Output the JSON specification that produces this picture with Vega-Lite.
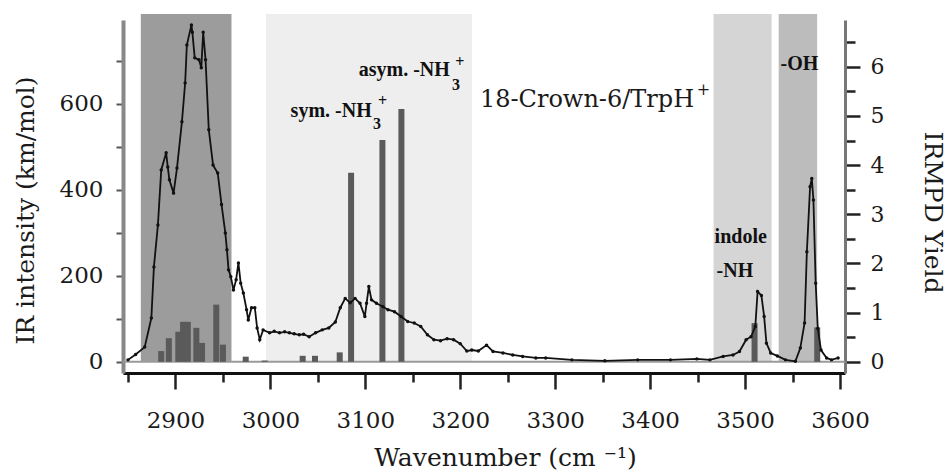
{
  "$schema": "https://vega.github.io/schema/vega-lite/v6.json",
  "width": 722,
  "height": 353,
  "autosize": {"type": "none"},
  "padding": {"left": 123, "top": 20, "right": 101, "bottom": 100},
  "background": "white",
  "config": {"view": {"stroke": null}},
  "datasets": {
    "bands": [
      {"x": 2863.5, "x2": 2959, "region": "CH"},
      {"x": 2995.4, "x2": 3212.4, "region": "NH3"},
      {"x": 3466.8, "x2": 3528, "region": "indole"},
      {"x": 3535.4, "x2": 3575.9, "region": "OH"}
    ],
    "sticks": [
      {"x": 2885, "y": 25}, {"x": 2893, "y": 55}, {"x": 2903, "y": 70},
      {"x": 2908, "y": 93}, {"x": 2913, "y": 93}, {"x": 2922, "y": 79},
      {"x": 2928, "y": 44}, {"x": 2943, "y": 133}, {"x": 2950, "y": 40},
      {"x": 2974, "y": 12}, {"x": 2994, "y": 3}, {"x": 3034, "y": 14},
      {"x": 3047, "y": 14}, {"x": 3073, "y": 22}, {"x": 3085, "y": 440},
      {"x": 3118, "y": 516}, {"x": 3138, "y": 588}, {"x": 3510, "y": 90},
      {"x": 3576, "y": 80}
    ],
    "irmpd": [
      {"x": 2850, "y": 0.04}, {"x": 2858, "y": 0.15}, {"x": 2867.6, "y": 0.3},
      {"x": 2874.6, "y": 0.89}, {"x": 2877.3, "y": 1.93}, {"x": 2881.5, "y": 2.78},
      {"x": 2885, "y": 3.9}, {"x": 2890.2, "y": 4.25}, {"x": 2891.9, "y": 3.96},
      {"x": 2893.6, "y": 3.7}, {"x": 2898, "y": 3.43}, {"x": 2901.6, "y": 3.94},
      {"x": 2906.8, "y": 4.88}, {"x": 2910.2, "y": 5.67}, {"x": 2912, "y": 6.44},
      {"x": 2916.8, "y": 6.85}, {"x": 2917.8, "y": 6.7}, {"x": 2920.3, "y": 6.18},
      {"x": 2924.8, "y": 6.14}, {"x": 2927.2, "y": 5.98}, {"x": 2929.2, "y": 6.7},
      {"x": 2931.7, "y": 6.14}, {"x": 2935.1, "y": 4.72}, {"x": 2939.6, "y": 4.0},
      {"x": 2944.5, "y": 3.84}, {"x": 2948.5, "y": 3.2}, {"x": 2952.5, "y": 2.62},
      {"x": 2954.2, "y": 2.28}, {"x": 2955.9, "y": 1.87}, {"x": 2958.3, "y": 1.73},
      {"x": 2961.1, "y": 1.46}, {"x": 2963.9, "y": 1.67}, {"x": 2966.3, "y": 2.01},
      {"x": 2968.7, "y": 1.6}, {"x": 2971.5, "y": 1.4}, {"x": 2974.9, "y": 1.06},
      {"x": 2976.7, "y": 0.85}, {"x": 2980.1, "y": 1.1}, {"x": 2983.6, "y": 1.1},
      {"x": 2986, "y": 0.69}, {"x": 2988.8, "y": 0.45}, {"x": 2992.3, "y": 0.65},
      {"x": 2999.2, "y": 0.59}, {"x": 3004, "y": 0.62}, {"x": 3009.6, "y": 0.59},
      {"x": 3015, "y": 0.61}, {"x": 3020, "y": 0.59}, {"x": 3025, "y": 0.57},
      {"x": 3030.4, "y": 0.55}, {"x": 3035, "y": 0.56}, {"x": 3040.8, "y": 0.51},
      {"x": 3047.6, "y": 0.59}, {"x": 3054.6, "y": 0.65}, {"x": 3061.5, "y": 0.69},
      {"x": 3068.4, "y": 0.81}, {"x": 3073.6, "y": 1.1}, {"x": 3078.8, "y": 1.29},
      {"x": 3084, "y": 1.2}, {"x": 3089.2, "y": 1.29}, {"x": 3094.4, "y": 1.19},
      {"x": 3099.5, "y": 0.92}, {"x": 3101.3, "y": 1.19}, {"x": 3103.7, "y": 1.53},
      {"x": 3106.5, "y": 1.26}, {"x": 3111.7, "y": 1.19}, {"x": 3118.6, "y": 1.12},
      {"x": 3123.8, "y": 1.06}, {"x": 3130.7, "y": 1.02}, {"x": 3137.6, "y": 0.92},
      {"x": 3144.6, "y": 0.82}, {"x": 3151.5, "y": 0.79}, {"x": 3158.4, "y": 0.72},
      {"x": 3165.4, "y": 0.55}, {"x": 3172.2, "y": 0.45}, {"x": 3179.2, "y": 0.43},
      {"x": 3186.1, "y": 0.47}, {"x": 3193, "y": 0.45}, {"x": 3200, "y": 0.37},
      {"x": 3206.9, "y": 0.22}, {"x": 3212.1, "y": 0.24}, {"x": 3219, "y": 0.22},
      {"x": 3227.7, "y": 0.34}, {"x": 3234.5, "y": 0.21}, {"x": 3245, "y": 0.18},
      {"x": 3255.3, "y": 0.14}, {"x": 3265.7, "y": 0.11}, {"x": 3279.6, "y": 0.08},
      {"x": 3290, "y": 0.08}, {"x": 3317.6, "y": 0.04}, {"x": 3352.3, "y": 0.02},
      {"x": 3386.9, "y": 0.04}, {"x": 3421.4, "y": 0.04}, {"x": 3449.2, "y": 0.06},
      {"x": 3463, "y": 0.04}, {"x": 3476.9, "y": 0.11}, {"x": 3487.3, "y": 0.14},
      {"x": 3494.1, "y": 0.21}, {"x": 3501.1, "y": 0.45}, {"x": 3506.3, "y": 0.51},
      {"x": 3510.8, "y": 0.72}, {"x": 3513.2, "y": 1.43}, {"x": 3517.2, "y": 1.35},
      {"x": 3520.1, "y": 0.92}, {"x": 3522.5, "y": 0.38}, {"x": 3527, "y": 0.18},
      {"x": 3534, "y": 0.12}, {"x": 3542.6, "y": 0.04}, {"x": 3553, "y": 0.01},
      {"x": 3558.2, "y": 0.28}, {"x": 3562.7, "y": 0.79}, {"x": 3565.1, "y": 2.24},
      {"x": 3568.5, "y": 3.56}, {"x": 3570.3, "y": 3.73}, {"x": 3572, "y": 3.29},
      {"x": 3574.4, "y": 1.6}, {"x": 3576.6, "y": 0.68}, {"x": 3580, "y": 0.24},
      {"x": 3585.9, "y": 0.08}, {"x": 3591.1, "y": 0.04}, {"x": 3598, "y": 0.08}
    ],
    "labelsBold": [
      {"x": 3021.3, "y": 570, "text": "sym. -NH"},
      {"x": 3093, "y": 665, "text": "asym. -NH"},
      {"x": 3467.9, "y": 277, "text": "indole"},
      {"x": 3470, "y": 198, "text": "-NH"},
      {"x": 3537.4, "y": 679, "text": "-OH"}
    ],
    "labelsScript": [
      {"x": 3108.2, "y": 541, "text": "3"},
      {"x": 3113.4, "y": 595, "text": "+"},
      {"x": 3191.3, "y": 633, "text": "3"},
      {"x": 3194.8, "y": 685, "text": "+"}
    ],
    "labelsPlain": [
      {"x": 3220.7, "y": 593, "text": "18-Crown-6/TrpH"}
    ],
    "labelsPlainSup": [
      {"x": 3449.2, "y": 621, "text": "+"}
    ]
  },
  "layer": [
    {
      "layer": [
        {
          "data": {"name": "bands"},
          "mark": {"type": "rect"},
          "encoding": {
            "x": {"field": "x", "type": "quantitative", "scale": {"domain": [2850, 3600], "nice": false, "zero": false}},
            "x2": {"field": "x2"},
            "y": {"datum": 809, "type": "quantitative", "scale": {"domain": [-26, 795], "nice": false, "zero": false}},
            "y2": {"datum": 0},
            "color": {"field": "region", "type": "nominal", "scale": {"domain": ["CH", "NH3", "indole", "OH"], "range": ["#9c9c9c", "#eeeeee", "#d5d5d5", "#bcbcbc"]}, "legend": null}
          }
        },
        {
          "data": {"values": [{"y": 0}]},
          "mark": {"type": "rule", "color": "#9a9a9a", "strokeWidth": 2},
          "encoding": {
            "y": {"field": "y", "type": "quantitative"}
          }
        },
        {
          "data": {"name": "sticks"},
          "mark": {"type": "bar", "color": "#5a5a5a", "size": 6},
          "encoding": {
            "x": {"field": "x", "type": "quantitative", "axis": {
              "values": [2850, 2900, 2950, 3000, 3050, 3100, 3150, 3200, 3250, 3300, 3350, 3400, 3450, 3500, 3550, 3600],
              "format": "d",
              "labelExpr": "datum.value % 100 === 0 ? datum.label : ''",
              "title": "Wavenumber (cm \u207B\u00B9)",
              "titleFont": "DejaVu Serif", "titleFontSize": 25, "titleFontWeight": "normal", "titleColor": "#1a1a1a",
              "titleX": 382, "titleY": 92, "titleBaseline": "alphabetic", "titleAlign": "center",
              "labelFont": "DejaVu Serif", "labelFontSize": 23, "labelColor": "#1a1a1a",
              "labelPadding": 20, "labelFlush": false, "labelOverlap": false,
              "tickSize": {"condition": {"test": "datum.value % 100 === 0", "value": 16}, "value": 9},
              "tickWidth": 2.5, "tickColor": "#222222",
              "domainColor": "#111111", "domainWidth": 3, "grid": false
            }},
            "y": {"field": "y", "type": "quantitative", "axis": {
              "values": [0, 100, 200, 300, 400, 500, 600, 700],
              "format": "d",
              "labelExpr": "datum.value % 200 === 0 ? datum.label : ''",
              "title": "IR intensity (km/mol)",
              "titleFont": "DejaVu Serif", "titleFontSize": 25, "titleFontWeight": "normal", "titleColor": "#1a1a1a",
              "titleAngle": 270, "titleX": -98, "titleY": 190, "titleAlign": "center", "titleBaseline": "middle",
              "labelFont": "DejaVu Serif", "labelFontSize": 23, "labelColor": "#1a1a1a",
              "labelPadding": 13, "labelFlush": false, "labelOverlap": false,
              "tickSize": 7, "tickWidth": 2, "tickColor": "#555555",
              "domainColor": "#888888", "domainWidth": 4, "grid": false
            }},
            "y2": {"datum": 0}
          }
        },
        {
          "data": {"name": "labelsBold"},
          "mark": {"type": "text", "font": "Liberation Serif", "fontWeight": "bold", "fontSize": 20, "align": "left", "baseline": "alphabetic", "color": "#111111"},
          "encoding": {
            "x": {"field": "x", "type": "quantitative"},
            "y": {"field": "y", "type": "quantitative"},
            "text": {"field": "text"}
          }
        },
        {
          "data": {"name": "labelsScript"},
          "mark": {"type": "text", "font": "Liberation Serif", "fontWeight": "bold", "fontSize": 16, "align": "left", "baseline": "alphabetic", "color": "#111111"},
          "encoding": {
            "x": {"field": "x", "type": "quantitative"},
            "y": {"field": "y", "type": "quantitative"},
            "text": {"field": "text"}
          }
        },
        {
          "data": {"name": "labelsPlain"},
          "mark": {"type": "text", "font": "DejaVu Serif", "fontSize": 24, "align": "left", "baseline": "alphabetic", "color": "#1a1a1a"},
          "encoding": {
            "x": {"field": "x", "type": "quantitative"},
            "y": {"field": "y", "type": "quantitative"},
            "text": {"field": "text"}
          }
        },
        {
          "data": {"name": "labelsPlainSup"},
          "mark": {"type": "text", "font": "DejaVu Serif", "fontSize": 16, "align": "left", "baseline": "alphabetic", "color": "#1a1a1a"},
          "encoding": {
            "x": {"field": "x", "type": "quantitative"},
            "y": {"field": "y", "type": "quantitative"},
            "text": {"field": "text"}
          }
        }
      ]
    },
    {
      "data": {"name": "irmpd"},
      "mark": {"type": "line", "color": "#111111", "strokeWidth": 1.8, "point": {"filled": true, "size": 12, "color": "#111111"}},
      "encoding": {
        "x": {"field": "x", "type": "quantitative"},
        "y": {"field": "y", "type": "quantitative",
          "scale": {"domain": [-0.227, 6.95], "nice": false, "zero": false},
          "axis": {
            "orient": "right",
            "values": [0, 0.5, 1, 1.5, 2, 2.5, 3, 3.5, 4, 4.5, 5, 5.5, 6, 6.5],
            "labelExpr": "datum.value % 1 === 0 ? format(datum.value, 'd') : ''",
            "title": "IRMPD Yield",
            "titleFont": "DejaVu Serif", "titleFontSize": 25, "titleFontWeight": "normal", "titleColor": "#1a1a1a",
            "titleAngle": 90, "titleX": 87, "titleY": 192, "titleAlign": "center", "titleBaseline": "middle",
            "labelFont": "DejaVu Serif", "labelFontSize": 22, "labelColor": "#1a1a1a",
            "labelPadding": 10, "labelFlush": false, "labelOverlap": false,
            "tickSize": {"condition": {"test": "datum.value % 1 === 0", "value": 15}, "value": 10},
            "tickWidth": 2.5, "tickColor": "#222222",
            "domainColor": "#777777", "domainWidth": 3, "grid": false
          }
        }
      }
    }
  ],
  "resolve": {"scale": {"y": "independent"}}
}
